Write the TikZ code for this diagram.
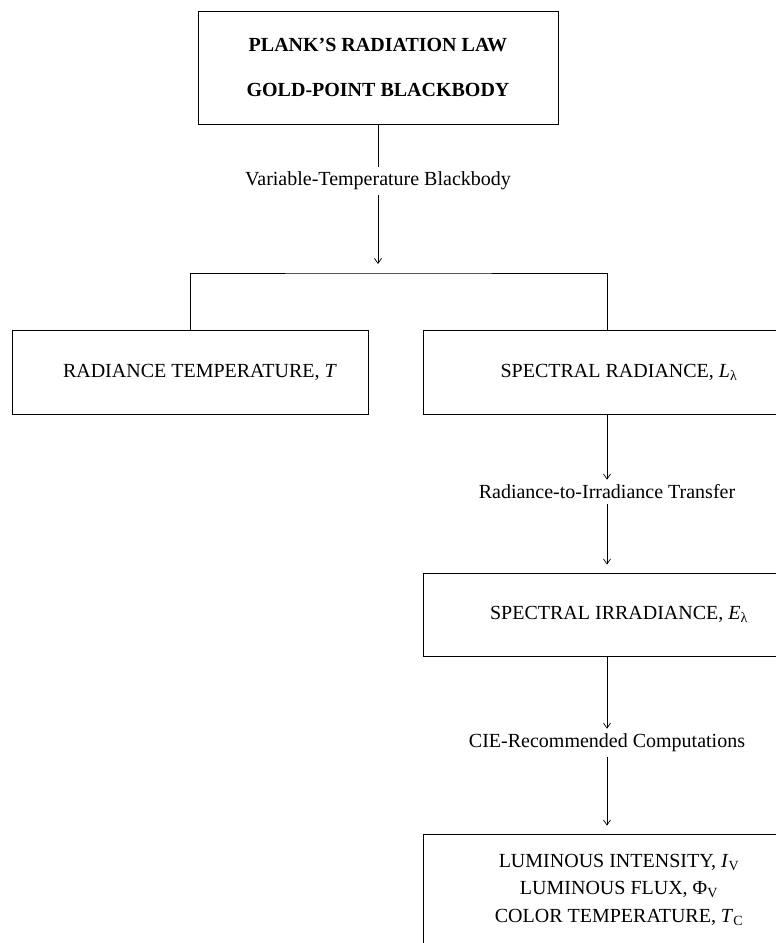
\documentclass[tikz,border=0pt]{standalone}
\usepackage{fontspec}
\setmainfont{Liberation Serif}
\usetikzlibrary{arrows.meta}

\tikzset{
  box/.style={draw,line width=0.9pt,inner sep=0pt,align=center,
    font=\fontsize{20}{24}\selectfont},
  lbl/.style={inner xsep=2pt,inner ysep=5pt,font=\fontsize{20}{24}\selectfont},
  arr/.style={-{Straight Barb[length=5pt,width=7pt]},line width=0.7pt}
}

\begin{document}
\begin{tikzpicture}[x=1pt,y=-1pt]
  \useasboundingbox (0,0) rectangle (776,943);
  \clip (0,0) rectangle (776,943);
  % boxes
  \node[box,minimum width=360,minimum height=113,font=\fontsize{20}{24}\selectfont\bfseries]
    (plank) at (378,67.5) {PLANK'S RADIATION LAW\\[21pt]GOLD-POINT BLACKBODY};
  \node[box,minimum width=356,minimum height=84] (radtemp) at (190,372)
    {\hspace{20pt}RADIANCE TEMPERATURE, \textit{T}};
  \node[box,minimum width=392,minimum height=84] (specrad) at (619,372)
    {SPECTRAL RADIANCE, \textit{L}\textsubscript{λ}};
  \node[box,minimum width=392,minimum height=83] (specirr) at (619,614.5)
    {SPECTRAL IRRADIANCE, \textit{E}\textsubscript{λ}};
  \node[box,minimum width=392,minimum height=111] (lum) at (619,889.5)
    {LUMINOUS INTENSITY, \textit{I}\textsubscript{V}\\[3.5pt]
     LUMINOUS FLUX, Φ\textsubscript{V}\\[3.5pt]
     COLOR TEMPERATURE, \textit{T}\textsubscript{C}};
  % labels
  \node[lbl] (varbb) at (378,181) {Variable-Temperature Blackbody};
  \node[lbl] (transfer) at (607,492) {Radiance-to-Irradiance Transfer};
  \node[lbl] (ciecomp) at (607,743) {CIE-Recommended Computations};
  \coordinate (split) at (378,273);
  \coordinate (rtap) at (607,330);
  % connectors
  \begin{scope}[line width=0.7pt]
    \draw (plank) -- (varbb);
    \draw[arr,shorten >=9pt] (varbb) -- (split);
    \draw (radtemp.north) |- (split) -| (rtap);
    \draw[arr] (specrad.south -| rtap) -- (transfer.north -| rtap);
    \draw[arr,shorten >=8pt] (transfer.south -| rtap) -- (specirr.north -| rtap);
    \draw[arr] (specirr.south -| rtap) -- (ciecomp.north -| rtap);
    \draw[arr,shorten >=8pt] (ciecomp.south -| rtap) -- (lum.north -| rtap);
  \end{scope}
\end{tikzpicture}
\end{document}
